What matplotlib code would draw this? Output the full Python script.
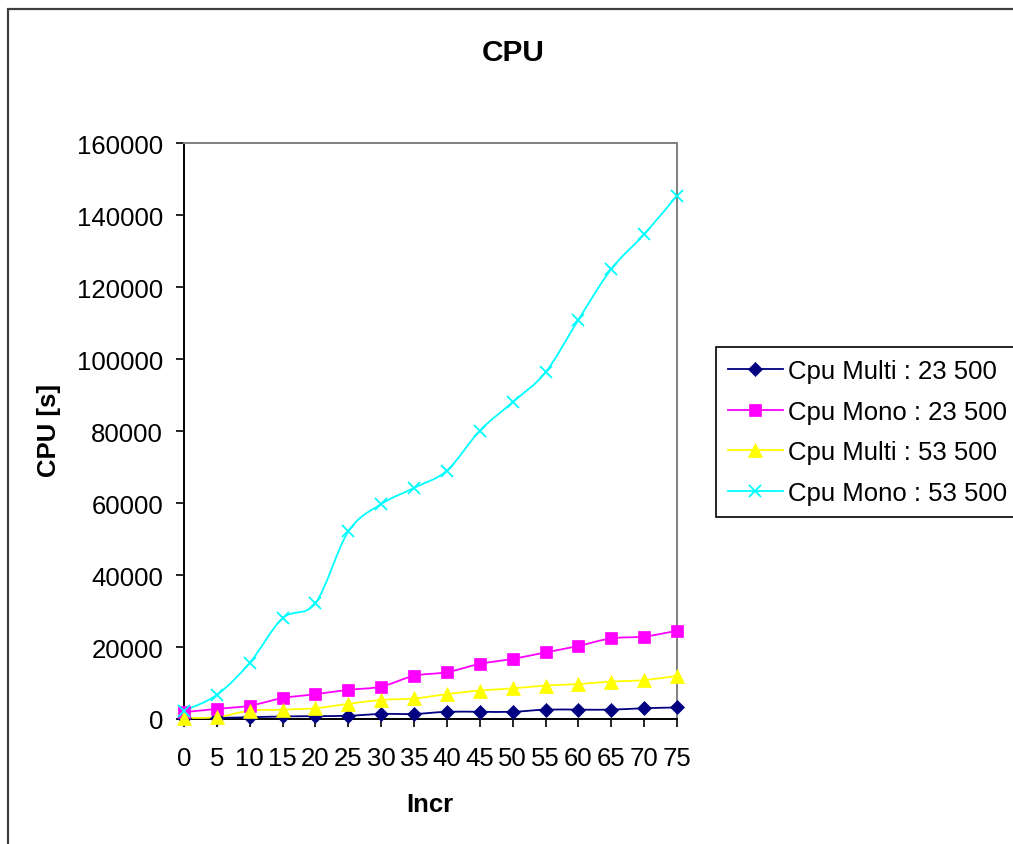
import matplotlib
matplotlib.use("Agg")
import matplotlib.pyplot as plt
from matplotlib.path import Path
from matplotlib.patches import PathPatch, Rectangle
from matplotlib.lines import Line2D

plt.rcParams['font.family'] = ['Liberation Sans', 'DejaVu Sans']

# Increments (category axis) and CPU times in seconds
incr = [0, 5, 10, 15, 20, 25, 30, 35, 40, 45, 50, 55, 60, 65, 70, 75]
cpu_multi_23500 = [200, 300, 500, 700, 800, 900, 1400, 1400, 2000, 2000,
                   2000, 2600, 2600, 2600, 3000, 3200]
cpu_mono_23500 = [1900, 2800, 3700, 5800, 6900, 8100, 9000, 12000, 13000,
                  15300, 16700, 18500, 20300, 22400, 22900, 24500]
cpu_multi_53500 = [300, 500, 2300, 2600, 3000, 4200, 5300, 5700, 6900, 7900,
                   8500, 9300, 9700, 10400, 10800, 12000]
cpu_mono_53500 = [2300, 6700, 15600, 28000, 32200, 52100, 59700, 64200,
                  69000, 80100, 88000, 96300, 110900, 125000, 134600, 145400]

series_names = ["Cpu Multi : 23 500", "Cpu Mono : 23 500",
                "Cpu Multi : 53 500", "Cpu Mono : 53 500"]
series_values = [cpu_multi_23500, cpu_mono_23500, cpu_multi_53500, cpu_mono_53500]
colors = ["#000080", "#FF00FF", "#FFFF00", "#00FFFF"]
markers = ["D", "s", "^", "x"]
msizes = [7.5, 8.5, 9.5, 8]

W, H = 1013, 845
fig = plt.figure(figsize=(W / 100, H / 100), dpi=100)
fig.patch.set_facecolor("white")

# chart-area border (only top and left edges fall inside the image)
fig.patches.append(Rectangle((8 / W, -0.2), 1.2, 1.2 - 10 / H,
                             transform=fig.transFigure, fill=False,
                             edgecolor="#404040", lw=1.6))

ax = fig.add_axes([184 / W, 1 - 720 / H, (677 - 184) / W, (720 - 144) / H])

x_pos = list(range(len(incr)))


def smooth_path(xs, ys):
    """Bezier path through the points, Catmull-Rom style control points."""
    pts = list(zip(xs, ys))
    n = len(pts)
    verts = [pts[0]]
    codes = [Path.MOVETO]
    for i in range(n - 1):
        p0 = pts[i - 1] if i > 0 else pts[i]
        p1 = pts[i]
        p2 = pts[i + 1]
        p3 = pts[i + 2] if i + 2 < n else pts[i + 1]
        c1 = (p1[0] + (p2[0] - p0[0]) / 6, p1[1] + (p2[1] - p0[1]) / 6)
        c2 = (p2[0] - (p3[0] - p1[0]) / 6, p2[1] - (p3[1] - p1[1]) / 6)
        verts += [c1, c2, p2]
        codes += [Path.CURVE4] * 3
    return Path(verts, codes)


handles = []
for vals, col, mk, ms, name in zip(series_values, colors, markers, msizes, series_names):
    patch = PathPatch(smooth_path(x_pos, vals), fill=False, edgecolor=col,
                      lw=1.3, zorder=3, clip_on=False)
    ax.add_patch(patch)
    mew = 1.3 if mk == "x" else 0.5
    ax.plot(x_pos, vals, linestyle="none", marker=mk, markersize=ms,
            color=col, markeredgecolor=col, markeredgewidth=mew,
            zorder=4, clip_on=False)
    handles.append(Line2D([], [], color=col, lw=1.3, marker=mk, markersize=ms,
                          markeredgecolor=col, markeredgewidth=mew, label=name))

ax.set_xlim(0, len(incr) - 1)
ax.set_ylim(0, 160000)
ax.set_xticks(x_pos)
ax.set_xticklabels([str(v) for v in incr])
ax.set_yticks(range(0, 160001, 20000))
ax.set_yticklabels([str(v) for v in range(0, 160001, 20000)])

ax.tick_params(axis="both", direction="out", length=6, width=1.2,
               labelsize=18.5, colors="black")
ax.tick_params(axis="y", pad=9)
ax.tick_params(axis="x", pad=13.5)

for side in ("left", "bottom"):
    ax.spines[side].set_color("black")
    ax.spines[side].set_linewidth(1.4)
for side in ("top", "right"):
    ax.spines[side].set_color("#808080")
    ax.spines[side].set_linewidth(1.4)

ax.set_ylabel("CPU [s]", fontsize=18.5, fontweight="bold", va="center")
ax.yaxis.set_label_coords((49 - 184) / 493, (720 - 430) / 576)
ax.set_xlabel("Incr", fontsize=18.5, fontweight="bold", va="center")
ax.xaxis.set_label_coords((430 - 184) / 493, (720 - 805) / 576)

fig.text(513 / W, 1 - 53 / H, "CPU", ha="center", va="center",
         fontsize=21.5, fontweight="bold")

leg = fig.legend(handles=handles, loc="upper left",
                 bbox_to_anchor=(716 / W, 1 - 348 / H),
                 bbox_transform=fig.transFigure, borderaxespad=0,
                 fontsize=18.5, frameon=True, fancybox=False, shadow=False,
                 handlelength=2.15, handletextpad=0.2, labelspacing=0.66,
                 borderpad=0.45)
leg.get_frame().set_edgecolor("black")
leg.get_frame().set_linewidth(1.2)
leg.get_frame().set_alpha(1)

fig.savefig("out.png", dpi=100)
